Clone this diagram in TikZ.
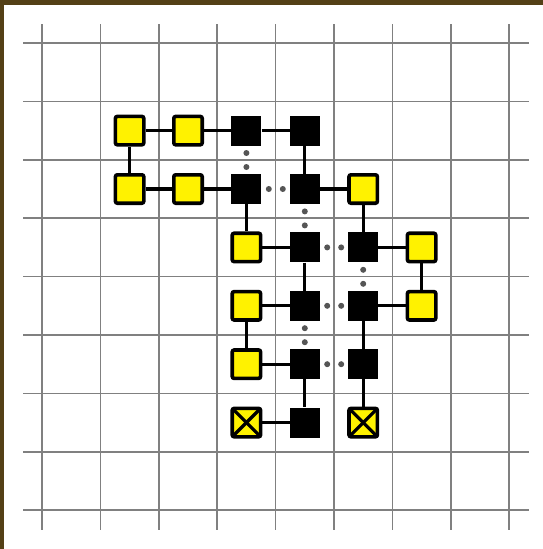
\documentclass[tikz,border=0pt]{standalone}
\usepackage{xcolor}
\usetikzlibrary{positioning}
\definecolor{framebrown}{RGB}{84,64,22}
\definecolor{gridgray}{RGB}{128,128,128}
\definecolor{dotgray}{RGB}{85,85,85}

\begin{document}
\begin{tikzpicture}[
  x=1pt, y=1pt,
  on grid, node distance=58.4pt,
  gridline/.style={gridgray, line width=1.6pt},
  yellowsite/.style={draw, fill=yellow, line width=3.6pt, rounded corners=2pt,
    minimum size=28.4pt, inner sep=0pt},
  blacksite/.style={fill=black, minimum size=30pt, inner sep=0pt},
  crosssite/.style={yellowsite, path picture={
      \draw[line width=3.2pt] (path picture bounding box.north west) -- (path picture bounding box.south east);
      \draw[line width=3.2pt] (path picture bounding box.north east) -- (path picture bounding box.south west);}},
  link/.style={line width=3.3pt},
  dotlink/.style={dotgray, line width=6pt, line cap=round,
    dash pattern=on 0pt off 14pt, dash phase=6.8pt}
]
\useasboundingbox (0,0) rectangle (543,-549);
\fill[framebrown] (0,0) rectangle (543,-549);
\fill[white] (4,-5) rectangle (543,-549);

% grid
\foreach \i in {0,...,8} {
  \draw[gridline] ({42+58.4*\i},-24) -- ({42+58.4*\i},-530);
  \draw[gridline] (23,{-43-58.4*\i}) -- (529,{-43-58.4*\i});
}

% sites
\node[yellowsite] (c1r1) at (129.6,-130.6) {};
\node[yellowsite,right=of c1r1] (c2r1) {};
\node[blacksite,right=of c2r1] (c3r1) {};
\node[blacksite,right=of c3r1] (c4r1) {};

\node[yellowsite,below=of c1r1] (c1r2) {};
\node[yellowsite,right=of c1r2] (c2r2) {};
\node[blacksite,right=of c2r2] (c3r2) {};
\node[blacksite,right=of c3r2] (c4r2) {};
\node[yellowsite,right=of c4r2] (c5r2) {};

\node[yellowsite,below=of c3r2] (c3r3) {};
\node[blacksite,right=of c3r3] (c4r3) {};
\node[blacksite,right=of c4r3] (c5r3) {};
\node[yellowsite,right=of c5r3] (c6r3) {};

\node[yellowsite,below=of c3r3] (c3r4) {};
\node[blacksite,right=of c3r4] (c4r4) {};
\node[blacksite,right=of c4r4] (c5r4) {};
\node[yellowsite,right=of c5r4] (c6r4) {};

\node[yellowsite,below=of c3r4] (c3r5) {};
\node[blacksite,right=of c3r5] (c4r5) {};
\node[blacksite,right=of c4r5] (c5r5) {};

\node[crosssite,below=of c3r5] (c3r6) {};
\node[blacksite,right=of c3r6] (c4r6) {};
\node[crosssite,right=of c4r6] (c5r6) {};

% solid bonds
\foreach \a/\b in {c1r1/c2r1, c2r1/c3r1, c3r1/c4r1, c1r1/c1r2, c4r1/c4r2,
    c1r2/c2r2, c2r2/c3r2, c4r2/c5r2, c3r2/c3r3, c5r2/c5r3,
    c3r3/c4r3, c5r3/c6r3, c4r3/c4r4, c6r3/c6r4,
    c3r4/c4r4, c5r4/c6r4, c3r4/c3r5, c5r4/c5r5,
    c3r5/c4r5, c4r5/c4r6, c5r5/c5r6, c3r6/c4r6}
  \draw[link] (\a) -- (\b);

% dotted bonds
\foreach \a/\b in {c3r1/c3r2, c3r2/c4r2, c4r2/c4r3, c4r3/c5r3,
    c5r3/c5r4, c4r4/c5r4, c4r4/c4r5, c4r5/c5r5}
  \draw[dotlink] (\a) -- (\b);
\end{tikzpicture}
\end{document}
